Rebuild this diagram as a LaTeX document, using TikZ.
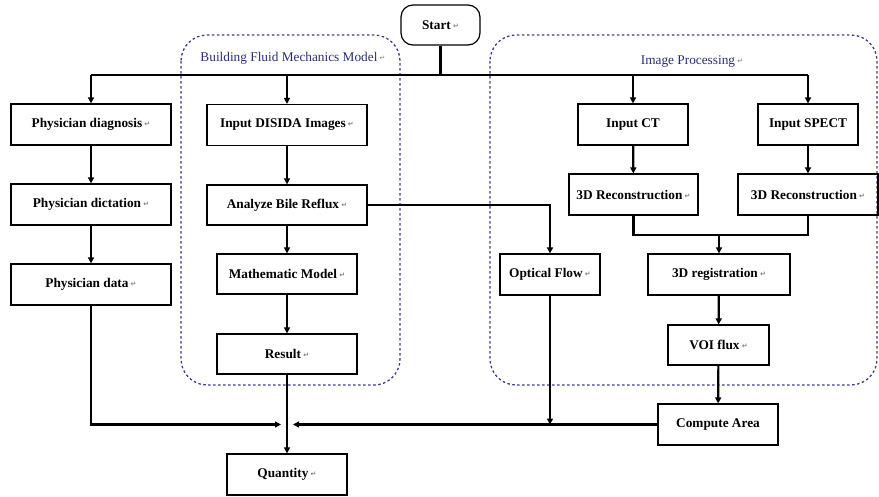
\documentclass[tikz,border=0pt]{standalone}
\usepackage{fontspec}
\setmainfont{Liberation Serif}
\newfontfamily\retfont{DejaVu Sans}
\usetikzlibrary{arrows.meta}
\definecolor{navy}{HTML}{2B2B78}
\definecolor{dashc}{HTML}{3C3C8C}
\newcommand\retm{\,{\retfont\fontsize{7}{7}\selectfont\color{gray}\raisebox{1pt}{↵}}}
\tikzset{
  box/.style={draw, line width=1.2pt, inner sep=0pt, minimum height=41pt,
    font=\bfseries\fontsize{13.3}{15}\selectfont, align=center},
  startbox/.style={box, rounded corners=12pt, minimum width=79pt, minimum height=40pt},
  conn/.style={line width=2.2pt},
  arr/.style={line width=2.2pt, -{Triangle[length=6pt,width=6pt]}},
  group/.style={draw=dashc, line width=1.3pt, dash pattern=on 2.5pt off 2.5pt, rounded corners=26pt},
  grouplabel/.style={text=navy, font=\fontsize{13.3}{15}\selectfont, inner sep=0pt}
}
\begin{document}
\begin{tikzpicture}[x=1pt,y=-1pt]
\useasboundingbox (0,0) rectangle (879,496);
% group boxes
\draw[group] (181,35) rectangle (400,385);
\draw[group] (490,35) rectangle (877,385);
\node[grouplabel] (glab1) at (293,58) {Building Fluid Mechanics Model\retm};
\node[grouplabel] (glab2) at (692,62) {Image Processing\retm};
% nodes
\node[startbox] (start) at (440.5,25) {Start\retm};
\node[box, minimum width=160pt] (pdiag) at (91,124.5) {Physician diagnosis\retm};
\node[box, minimum width=160pt] (pdict) at (91,204.5) {Physician dictation\retm};
\node[box, minimum width=160pt] (pdata) at (91,284.5) {Physician data\retm};
\node[box, minimum width=160pt] (disida) at (287,125) {Input DISIDA Images\retm};
\node[box, minimum width=160pt, minimum height=40pt] (analyze) at (287,205) {Analyze Bile Reflux\retm};
\node[box, minimum width=140pt, minimum height=40pt] (math) at (287,274) {Mathematic Model\retm};
\node[box, minimum width=140pt, minimum height=40pt] (result) at (287,354) {Result\retm};
\node[box, minimum width=120pt] (quantity) at (287,474.5) {Quantity\retm};
\node[box, minimum width=110pt] (ct) at (633,124.5) {Input CT};
\node[box, minimum width=100pt] (spect) at (808,124.5) {Input SPECT};
\node[box, minimum width=129pt] (rec1) at (633.5,194.5) {3D Reconstruction\retm};
\node[box, minimum width=140pt] (rec2) at (808,194.5) {3D Reconstruction\retm};
\node[box, minimum width=100pt] (optical) at (550,274.5) {Optical Flow\retm};
\node[box, minimum width=142pt] (reg) at (719,274.5) {3D registration\retm};
\node[box, minimum width=101pt, minimum height=40pt] (voi) at (718.5,345) {VOI flux\retm};
\node[box, minimum width=120pt] (compute) at (718,424.5) {Compute Area};
% bus coordinates
\coordinate (busc) at (440.5,75);
\coordinate (busl) at (91,75);
\coordinate (busr) at (808,75);
\coordinate (join) at (719,235);
\coordinate (qleft) at (281,424.5);
\coordinate (qright) at (293,424.5);
% connectors
\draw[conn] (start.south) -- (busc);
\draw[conn] (busl) -- (busr);
\draw[arr] (busl) -- (pdiag.north);
\draw[arr] (disida.north |- busc) -- (disida.north);
\draw[arr] (ct.north |- busc) -- (ct.north);
\draw[arr] (busr) -- (spect.north);
\draw[arr] (pdiag) -- (pdict);
\draw[arr] (pdict) -- (pdata);
\draw[arr] (disida) -- (analyze);
\draw[arr] (analyze) -- (math);
\draw[arr] (math) -- (result);
\draw[arr] (result) -- (quantity);
\draw[arr] (ct) -- (rec1);
\draw[arr] (spect) -- (rec2);
\draw[conn] (rec1.south) |- (join) -| (rec2.south);
\draw[arr] (join) -- (reg.north);
\draw[arr] (reg) -- (voi);
\draw[arr] (voi) -- (compute);
\draw[arr] (analyze.east) -| (optical.north);
\draw[arr] (optical.south) -- (optical.south |- compute.west);
\draw[arr] (compute.west) -- (qright);
\draw[arr] (pdata.south) |- (qleft);
\end{tikzpicture}
\end{document}
